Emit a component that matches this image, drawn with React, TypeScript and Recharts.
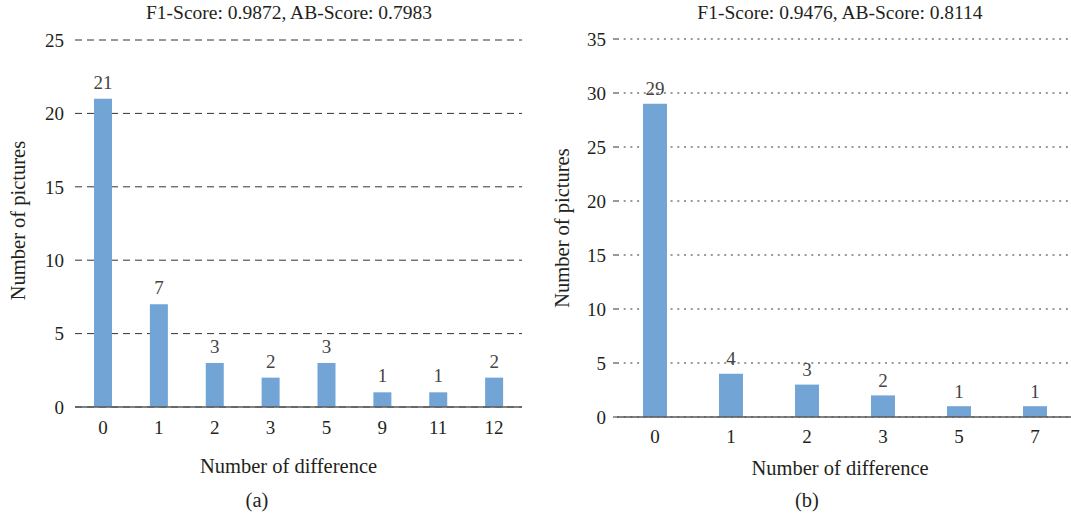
import React from 'react';
import { BarChart, Bar, XAxis, YAxis, CartesianGrid, LabelList, Label } from 'recharts';

const categoriesA = ['0', '1', '2', '3', '5', '9', '11', '12'];
const valuesA = [21, 7, 3, 2, 3, 1, 1, 2];
const ticksA = [0, 5, 10, 15, 20, 25];
const titleA = 'F1-Score: 0.9872, AB-Score: 0.7983';
const captionA = '(a)';

const categoriesB = ['0', '1', '2', '3', '5', '7'];
const valuesB = [29, 4, 3, 2, 1, 1];
const ticksB = [0, 5, 10, 15, 20, 25, 30, 35];
const titleB = 'F1-Score: 0.9476, AB-Score: 0.8114';
const captionB = '(b)';

const xLabel = 'Number of difference';
const yLabel = 'Number of pictures';

const dataA = categoriesA.map((c, i) => ({ cat: c, v: valuesA[i] }));
const dataB = categoriesB.map((c, i) => ({ cat: c, v: valuesB[i] }));

const FONT = "'Liberation Serif', 'Times New Roman', serif";
const FS = 19;
const LFS = 20.5;
const TEXT = '#231f20';
const BAR = '#72a5d6';

const textDiv = (text: string, cx: number, cy: number, fs: number) => (
  <div
    style={{
      position: 'absolute',
      left: cx - 250,
      width: 500,
      top: cy - fs * 0.505,
      height: fs,
      lineHeight: fs + 'px',
      fontSize: fs,
      fontFamily: FONT,
      color: TEXT,
      textAlign: 'center',
      whiteSpace: 'nowrap',
    }}
  >
    {text}
  </div>
);

export default function App() {
  return (
    <div
      style={{
        position: 'absolute',
        left: 0,
        top: 0,
        width: 1071,
        height: 516,
        overflow: 'hidden',
        background: '#fff',
        fontFamily: FONT,
      }}
    >
      <div style={{ position: 'absolute', left: 0, top: 0 }}>
        <BarChart width={540} height={516} data={dataA} margin={{ top: 40, right: 18, bottom: 0, left: 0 }}>
          <CartesianGrid vertical={false} stroke="#333" strokeDasharray="7 5" />
          <XAxis
            dataKey="cat"
            height={109}
            axisLine={{ stroke: '#595959', strokeWidth: 1.6 }}
            tickLine={false}
            tickSize={0}
            tickMargin={14}
            tick={{ fill: TEXT, fontSize: FS, fontFamily: FONT }}
          >
            <Label value={xLabel} position="insideBottom" offset={43} dx={-10} fill={TEXT} fontSize={LFS} fontFamily={FONT} />
          </XAxis>
          <YAxis
            width={75}
            domain={[0, 25]}
            ticks={ticksA}
            axisLine={false}
            tickLine={false}
            tickSize={0}
            tickMargin={11}
            tick={{ fill: TEXT, fontSize: FS, fontFamily: FONT }}
          >
            <Label
              value={yLabel}
              angle={-90}
              position="insideLeft"
              offset={18}
              dy={-3}
              fill={TEXT}
              fontSize={LFS}
              fontFamily={FONT}
              style={{ textAnchor: 'middle' }}
            />
          </YAxis>
          <Bar dataKey="v" fill={BAR} barSize={18} isAnimationActive={false}>
            <LabelList dataKey="v" position="top" offset={10} fill="#444" fontSize={FS} fontFamily={FONT} />
          </Bar>
        </BarChart>
      </div>
      <div style={{ position: 'absolute', left: 540, top: 0 }}>
        <BarChart width={540} height={516} data={dataB} margin={{ top: 39, right: 7, bottom: 0, left: 0 }}>
          <CartesianGrid vertical={false} stroke="#333" strokeDasharray="2 4.7" />
          <XAxis
            dataKey="cat"
            height={99}
            axisLine={{ stroke: '#595959', strokeWidth: 1.6 }}
            tickLine={false}
            tickSize={0}
            tickMargin={13}
            tick={{ fill: TEXT, fontSize: FS, fontFamily: FONT }}
          >
            <Label value={xLabel} position="insideBottom" offset={41.5} dx={-5} fill={TEXT} fontSize={LFS} fontFamily={FONT} />
          </XAxis>
          <YAxis
            width={77}
            domain={[0, 35]}
            ticks={ticksB}
            axisLine={false}
            tickLine={{ stroke: '#333' }}
            tickSize={4}
            tickMargin={7}
            tick={{ fill: TEXT, fontSize: FS, fontFamily: FONT }}
          >
            <Label
              value={yLabel}
              angle={-90}
              position="insideLeft"
              offset={22}
              fill={TEXT}
              fontSize={LFS}
              fontFamily={FONT}
              style={{ textAnchor: 'middle' }}
            />
          </YAxis>
          <Bar dataKey="v" fill={BAR} barSize={24} isAnimationActive={false}>
            <LabelList dataKey="v" position="top" offset={8.5} fill="#444" fontSize={FS} fontFamily={FONT} />
          </Bar>
        </BarChart>
      </div>
      {textDiv(titleA, 289, 13, 19.5)}
      {textDiv(titleB, 840, 13, 19.5)}
      {textDiv(captionA, 257, 500, LFS)}
      {textDiv(captionB, 807, 500, LFS)}
    </div>
  );
}
